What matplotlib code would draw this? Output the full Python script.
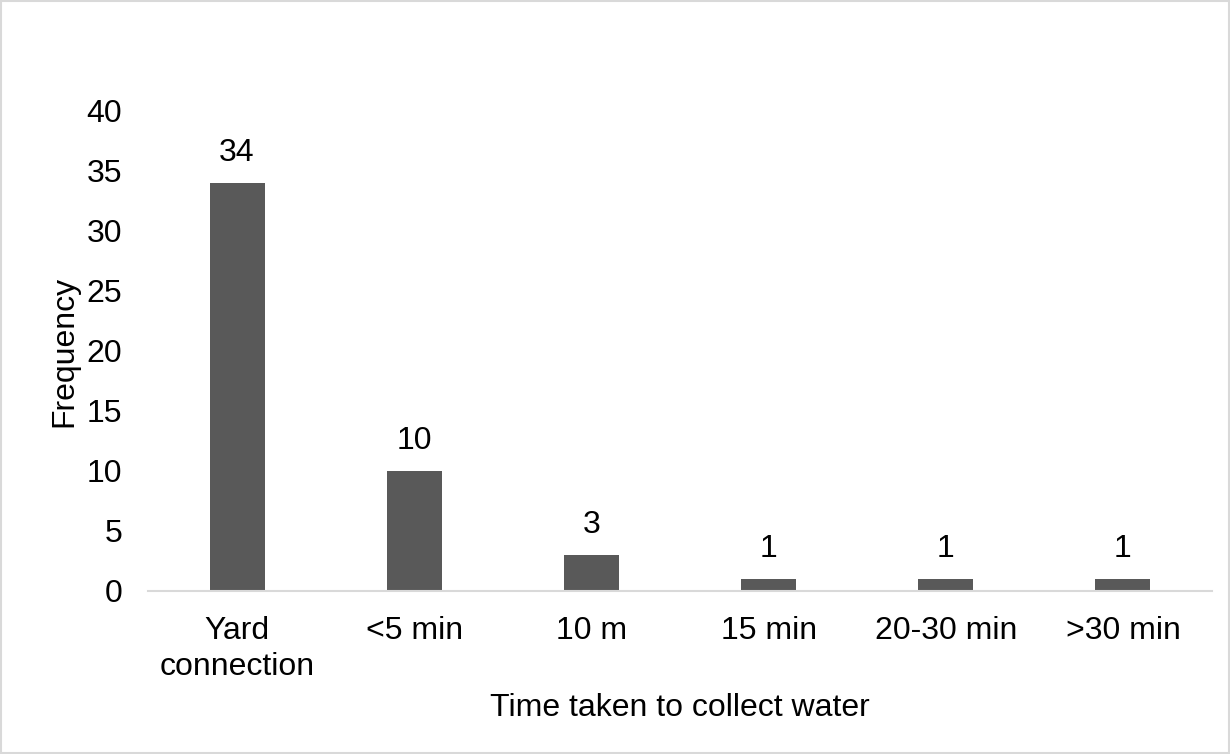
import matplotlib.pyplot as plt
import numpy as np

plt.rcParams['font.family'] = ['Liberation Sans', 'DejaVu Sans']

categories = ['Yard\nconnection', '<5 min', '10 m', '15 min', '20-30 min', '>30 min']
frequency = [34, 10, 3, 1, 1, 1]
yticks = [0, 5, 10, 15, 20, 25, 30, 35, 40]

fig = plt.figure(figsize=(12.3, 7.54), dpi=100)
ax = fig.add_axes([0.1207, 0.2162, 0.8643, 0.6366])

x = np.arange(len(categories))
bars = ax.bar(x, frequency, width=0.31, color='#595959')

for b, v in zip(bars, frequency):
    ax.annotate(str(v), (b.get_x() + b.get_width() / 2, v), xytext=(0, 11),
                textcoords='offset points', ha='center', va='bottom', fontsize=23)

ax.set_xlim(-0.5, len(categories) - 0.5)
ax.set_ylim(0, 40)
ax.set_yticks(yticks)
ax.set_xticks(x)
ax.set_xticklabels(categories, linespacing=1.25)
ax.tick_params(axis='both', length=0, labelsize=23)
ax.tick_params(axis='y', pad=19)
ax.tick_params(axis='x', pad=18)

for s in ['top', 'right', 'left']:
    ax.spines[s].set_visible(False)
ax.spines['bottom'].set_color('#d9d9d9')
ax.spines['bottom'].set_linewidth(1.5)

ax.set_ylabel('Frequency', fontsize=23, labelpad=5)
ax.set_xlabel('Time taken to collect water', fontsize=23, labelpad=8)

fig.patches.append(plt.Rectangle((0.001, 0.001), 0.998, 0.998, transform=fig.transFigure,
                                 fill=False, edgecolor='#d9d9d9', linewidth=1.5))

plt.savefig('out.png', dpi=100)
